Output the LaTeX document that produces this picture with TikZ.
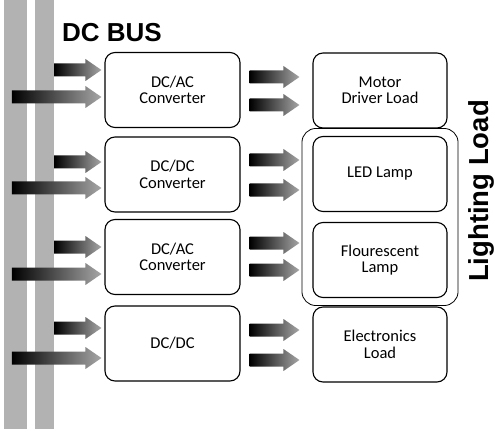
\documentclass[tikz,border=0pt]{standalone}
\usepackage{fontspec}
\setmainfont{Carlito}
\newfontfamily\headfont{Liberation Sans}
\usetikzlibrary{calc,fit}

\tikzset{
	unit/.style={draw, line width=1.1pt, rounded corners=10pt, minimum width=135, minimum height=75, align=center, inner sep=0, font=\fontsize{16.5}{16.5}\selectfont},
	bus/.style={fill=black!30, draw=none, inner sep=0, minimum height=429},
	fatarrow/.style={left color=black, middle color=black!88, right color=black!35},
	heading/.style={font=\headfont\bfseries\fontsize{26}{26}\selectfont, inner sep=0},
}

% #1 tail point, #2 tip point
\newcommand{\fatarrow}[2]{%
	\shade[fatarrow] let \p1=#1, \p2=#2 in
		(\x1,\y2+6.5) -- (\x2-16,\y2+6.5) -- (\x2-16,\y2+11) -- (\x2,\y2)
		-- (\x2-16,\y2-11) -- (\x2-16,\y2-6.5) -- (\x1,\y2-6.5) -- cycle;}

\begin{document}
\begin{tikzpicture}[x=1pt, y=1pt]
	\useasboundingbox (0,0) rectangle (495,429);
	\node[bus, minimum width=23] (busa) at (15.5,214.5) {};
	\node[bus, minimum width=19] (busb) at (44.5,214.5) {};
	\node[heading, anchor=base west] (title) at (62,387) {DC BUS};

	\node[unit] (acconv) at (172.5,339) {DC/AC\\Converter};
	\node[unit] (dcconv) at (172.5,254.5) {DC/DC\\Converter};
	\node[unit] (acconvb) at (172.5,172) {DC/AC\\Converter};
	\node[unit] (dcdc) at (172.5,85.5) {DC/DC};

	\node[unit, minimum width=134] (motor) at (380,338.5) {Motor\\Driver Load};
	\node[unit, minimum width=134] (led) at (380,255) {LED Lamp};
	\node[unit, minimum width=134] (lamp) at (380,169) {Flourescent\\Lamp};
	\node[unit, minimum width=134] (elec) at (380,84.5) {Electronics\\Load};

	\node[draw, line width=0.8pt, rounded corners=14pt, inner xsep=10.5, inner ysep=7.5, fit=(led)(lamp)] (lighting) {};
	\node[heading, rotate=90, anchor=base, font=\headfont\bfseries\fontsize{27.5}{27.5}\selectfont] (lightlabel) at (488,238) {Lighting Load};

	% bus to converters
	\fatarrow{(busb.east)}{($(acconv.west)+(-3,20)$)}
	\fatarrow{($(busa.west)+(8,0)$)}{($(acconv.west)+(-3,-7)$)}
	\fatarrow{(busb.east)}{($(dcconv.west)+(-3,12.5)$)}
	\fatarrow{($(busa.west)+(8,0)$)}{($(dcconv.west)+(-3,-13.5)$)}
	\fatarrow{(busb.east)}{($(acconvb.west)+(-3,10)$)}
	\fatarrow{($(busa.west)+(8,0)$)}{($(acconvb.west)+(-3,-17)$)}
	\fatarrow{(busb.east)}{($(dcdc.west)+(-3,15.5)$)}
	\fatarrow{($(busa.west)+(8,0)$)}{($(dcdc.west)+(-3,-14.5)$)}

	% converters to loads
	\fatarrow{($(acconv.east)+(9,0)$)}{($(motor.west)+(-13,13.5)$)}
	\fatarrow{($(acconv.east)+(9,0)$)}{($(motor.west)+(-13,-14.5)$)}
	\fatarrow{($(dcconv.east)+(9,0)$)}{($(led.west)+(-13,14)$)}
	\fatarrow{($(dcconv.east)+(9,0)$)}{($(led.west)+(-13,-16)$)}
	\fatarrow{($(acconvb.east)+(9,0)$)}{($(lamp.west)+(-13,17)$)}
	\fatarrow{($(acconvb.east)+(9,0)$)}{($(lamp.west)+(-13,-10)$)}
	\fatarrow{($(dcdc.east)+(9,0)$)}{($(elec.west)+(-13,14.5)$)}
	\fatarrow{($(dcdc.east)+(9,0)$)}{($(elec.west)+(-13,-15.5)$)}
\end{tikzpicture}
\end{document}
